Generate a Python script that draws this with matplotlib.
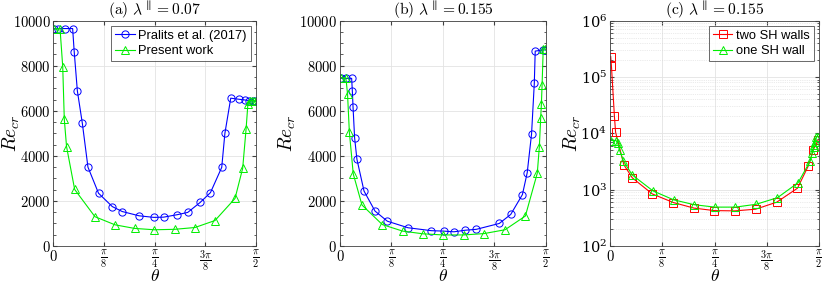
import numpy as np
import matplotlib
matplotlib.use("Agg")
import matplotlib.pyplot as plt
from matplotlib.ticker import MultipleLocator, LogLocator, NullFormatter

plt.rcParams['mathtext.fontset'] = 'cm'
plt.rcParams['font.family'] = 'DejaVu Serif'

# angles in degrees, Re_cr values
# (a) lambda = 0.07
a_blue_deg = [0.3, 2.2, 5.2, 8.6, 9.3, 10.7, 12.9, 15.4, 20.1, 26.2, 30.6, 38.1, 44.6,
              49.0, 55.1, 59.7, 65.3, 69.8, 74.8, 76.2, 78.8, 82.6, 85.1, 87.0, 88.8, 89.7]
a_blue_re = [9640, 9650, 9650, 9650, 8620, 6880, 5450, 3500, 2340, 1750, 1530, 1340, 1270,
             1280, 1390, 1490, 1940, 2370, 3490, 5000, 6560, 6510, 6480, 6450, 6450, 6420]
a_green_deg = [0.3, 3.0, 4.2, 4.9, 5.9, 9.5, 18.5, 27.4, 36.1, 44.9, 53.9, 62.9, 71.8,
               80.7, 84.1, 85.6, 86.4, 87.2, 88.2, 89.2, 89.8]
a_green_re = [9620, 9650, 7960, 5620, 4410, 2510, 1300, 940, 780, 720, 740, 820, 1130,
              2110, 3450, 5180, 6280, 6450, 6450, 6440, 6420]

# (b) lambda = 0.155
b_blue_deg = [0.3, 2.6, 5.1, 5.4, 5.7, 6.4, 7.4, 10.5, 15.3, 20.7, 29.7, 39.9, 45.3,
              49.8, 54.8, 59.6, 69.6, 74.6, 79.7, 81.8, 83.7, 84.9, 85.3, 88.8, 89.7]
b_blue_re = [7440, 7440, 7440, 6880, 6180, 4790, 3850, 2440, 1550, 1100, 810, 680, 660,
             630, 700, 740, 1000, 1400, 2280, 3250, 4970, 7220, 8650, 8700, 8700]
b_green_deg = [0.3, 2.6, 3.3, 4.1, 5.8, 9.6, 18.5, 27.4, 36.3, 45.1, 54.0, 62.9, 72.1,
               81.0, 86.2, 87.1, 87.7, 88.0, 88.3, 88.8, 89.4]
b_green_re = [7450, 7450, 6750, 5050, 3200, 1820, 950, 660, 540, 490, 490, 550, 720,
              1330, 3230, 4400, 5700, 6300, 7150, 8750, 8750]

# (c) one vs two SH walls, lambda = 0.155
c_red_deg = [0.3, 0.6, 1.9, 2.4, 6.0, 9.6, 18.2, 27.3, 36.2, 44.9, 53.8, 62.7, 71.8,
             80.7, 85.4, 87.4, 89.6]
c_red_re = [2.3e5, 1.6e5, 2.0e4, 1.05e4, 2750, 1620, 840, 590, 470, 425, 420, 450, 600,
            1060, 2650, 5000, 7600]
c_green_deg = b_green_deg
c_green_re = b_green_re

BLUE = '#0000ff'
GREEN = '#00ee00'
RED = '#ff0000'
xticks = [0, np.pi / 8, np.pi / 4, 3 * np.pi / 8, np.pi / 2]
xticklabels = [r'$0$', r'$\frac{\pi}{8}$', r'$\frac{\pi}{4}$', r'$\frac{3\pi}{8}$', r'$\frac{\pi}{2}$']


def style_axes(ax, title, ylabel_x):
    ax.set_xlim(0, np.pi / 2)
    ax.set_xticks(xticks)
    ax.set_xticklabels(xticklabels, fontsize=12.5)
    ax.get_xticklabels()[0].set_fontsize(11)
    ax.set_title(title, fontsize=11.2, pad=2)
    ax.set_xlabel(r'$\theta$', fontsize=12.5, labelpad=-3.5)
    ax.set_ylabel(r'$Re_{cr}$', fontsize=14)
    ax.yaxis.set_label_coords(ylabel_x, 0.5)
    ax.grid(True, which='major', color='#e3e3e3', linewidth=0.6)
    ax.set_axisbelow(True)
    ax.tick_params(which='both', direction='in', top=True, right=True, color='0.25',
                   labelsize=10.5, pad=2)
    ax.tick_params(which='major', length=3)
    ax.tick_params(which='minor', length=1.8)
    for s in ax.spines.values():
        s.set_color('0.25')
        s.set_linewidth(0.6)


def plot_series(ax, deg, re, color, marker, label):
    ax.plot(np.radians(deg), re, color=color, marker=marker, markersize=5.2,
            markerfacecolor='none', markeredgewidth=0.7, linewidth=0.8, label=label)


def add_legend(ax):
    leg = ax.legend(loc='upper right', frameon=True, fancybox=False,
                    edgecolor='0.15', borderpad=0.3, handlelength=1.5, handletextpad=0.3,
                    labelspacing=0.25, borderaxespad=0.4,
                    prop={'family': 'Liberation Sans', 'size': 9.3})
    leg.get_frame().set_linewidth(0.6)


fig = plt.figure(figsize=(8.22, 2.82), dpi=100)
ax1 = fig.add_axes([0.0648, 0.1277, 0.2466, 0.799])
ax2 = fig.add_axes([0.4136, 0.1277, 0.2506, 0.799])
ax3 = fig.add_axes([0.7421, 0.1277, 0.2543, 0.799])

plot_series(ax1, a_blue_deg, a_blue_re, BLUE, 'o', 'Pralits et al. (2017)')
plot_series(ax1, a_green_deg, a_green_re, GREEN, '^', 'Present work')
ax1.set_ylim(0, 10000)
ax1.yaxis.set_major_locator(MultipleLocator(2000))
ax1.yaxis.set_minor_locator(MultipleLocator(500))
style_axes(ax1, r'$\mathrm{(a)}\ \lambda^{\parallel} = 0.07$', -0.155)
ax1.set_yticklabels([f'${int(v)}$' for v in ax1.get_yticks()])
add_legend(ax1)

plot_series(ax2, b_blue_deg, b_blue_re, BLUE, 'o', 'Pralits et al. (2017)')
plot_series(ax2, b_green_deg, b_green_re, GREEN, '^', 'Present work')
ax2.set_ylim(0, 10000)
ax2.yaxis.set_major_locator(MultipleLocator(2000))
ax2.yaxis.set_minor_locator(MultipleLocator(500))
style_axes(ax2, r'$\mathrm{(b)}\ \lambda^{\parallel} = 0.155$', -0.205)
ax2.set_yticklabels([f'${int(v)}$' for v in ax2.get_yticks()])

plot_series(ax3, c_red_deg, c_red_re, RED, 's', 'two SH walls')
plot_series(ax3, c_green_deg, c_green_re, GREEN, '^', 'one SH wall')
ax3.set_yscale('log')
ax3.set_ylim(1e2, 1e6)
ax3.yaxis.set_major_locator(LogLocator(base=10, numticks=10))
ax3.yaxis.set_minor_locator(LogLocator(base=10, subs=np.arange(2, 10), numticks=20))
ax3.yaxis.set_minor_formatter(NullFormatter())
style_axes(ax3, r'$\mathrm{(c)}\ \lambda^{\parallel} = 0.155$', -0.13)
ax3.grid(True, which='minor', axis='y', color='#d8d8d8', linewidth=0.5, linestyle=':')
add_legend(ax3)

fig.savefig('out.png', dpi=100)
